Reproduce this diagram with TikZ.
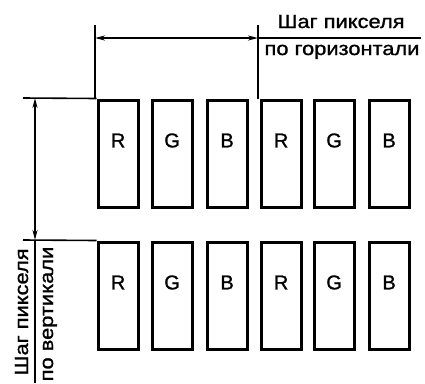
\documentclass[tikz,border=0pt]{standalone}
\usepackage{fontspec}
\setmainfont{Liberation Sans}[FakeBold=1.2]
\newfontfamily\lblfont{Liberation Sans}[FakeStretch=1.15,FakeBold=1.2]
\usetikzlibrary{arrows.meta}
\tikzset{
  pix/.style={draw, line width=3.2pt, minimum width=40pt, minimum height=107pt, inner sep=0pt, anchor=north west},
  letter/.style={font=\fontsize{20}{22}\selectfont, inner sep=0pt},
  ext/.style={line width=1.6pt},
  dim/.style={line width=1.6pt, {Stealth[length=10pt,width=5pt]}-{Stealth[length=10pt,width=5pt]}},
  lbl/.style={font=\lblfont\fontsize{19}{21}\selectfont, inner sep=0pt}
}
\begin{document}
\begin{tikzpicture}[x=1pt,y=-1pt]
\useasboundingbox (0,0) rectangle (425,383);
% boxes
\foreach \r/\yy in {t/98.5, b/240.5}{
  \foreach \i/\xx/\c in {1/96.5/R, 2/150.5/G, 3/205.5/B, 4/259.5/R, 5/312.5/G, 6/367.5/B}{
    \node[pix] (\r\i) at (\xx,\yy) {};
    \node[letter] (\r\i l) at ([yshift=-42pt]\r\i.north) {\c};
  }
}
% horizontal dimension
\coordinate (hx1) at (95,25);
\coordinate (hx2) at (258,25);
\draw[ext] (hx1) -- (hx1 |- t1.north);
\draw[ext] (hx2) -- (hx2 |- t4.north);
\coordinate (ha) at (95,38);
\coordinate (hb) at (258,38);
\coordinate (hc) at (421,38);
\draw[dim] (ha) -- (hb);
\draw[ext] (hb) -- (hc);
\node[lbl, anchor=base] (h1) at (341,28) {Шаг пикселя};
\node[lbl, anchor=base] (h2) at (342,55) {по горизонтали};
% vertical dimension
\coordinate (vy1) at (23,98);
\coordinate (vy2) at (23,240);
\draw[ext] (vy1) -- (t1.north west);
\draw[ext] (vy2) -- (b1.north west);
\coordinate (va) at (35,98);
\coordinate (vb) at (35,240);
\coordinate (vc) at (35,383);
\draw[dim] (va) -- (vb);
\draw[ext] (vb) -- (vc);
\node[lbl, anchor=base, rotate=90] (v1) at (28,312) {Шаг пикселя};
\node[lbl, anchor=base, rotate=90] (v2) at (53,314) {по вертикали};
\end{tikzpicture}
\end{document}
